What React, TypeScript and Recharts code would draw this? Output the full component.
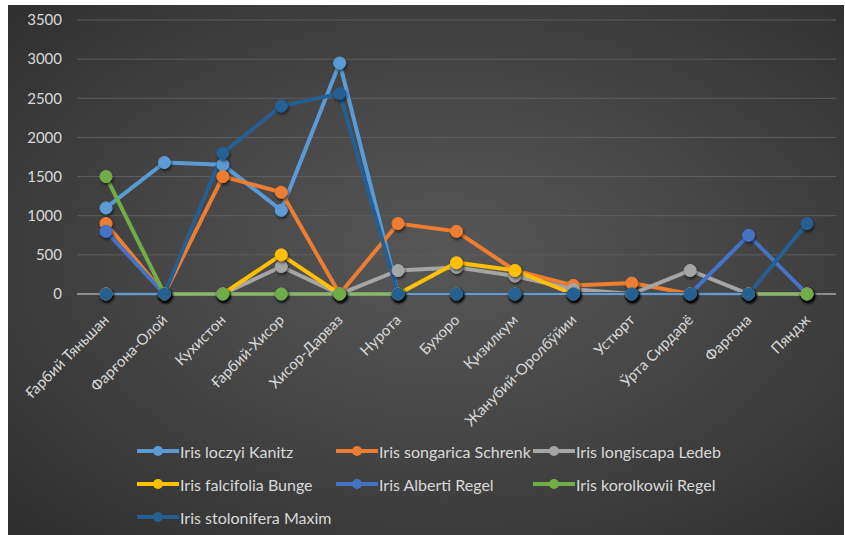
import React from "react";
import {
  LineChart,
  Line,
  XAxis,
  YAxis,
  CartesianGrid,
  Legend,
} from "recharts";

const regions = [
  "Ғарбий Тяньшан",
  "Фарғона-Олой",
  "Кухистон",
  "Ғарбий-Хисор",
  "Хисор-Дарваз",
  "Нурота",
  "Бухоро",
  "Қизилкум",
  "Жанубий-Оролбўйии",
  "Устюрт",
  "Ўрта Сирдарё",
  "Фарғона",
  "Пяндж",
];

const loczyi = [1100, 1680, 1650, 1070, 2950, 0, 0, 0, 0, 0, 0, 0, 0];
const songarica = [900, 0, 1500, 1300, 0, 900, 800, 300, 110, 140, 0, 0, 0];
const longiscapa = [0, 0, 0, 350, 0, 300, 340, 230, 60, 0, 300, 0, 0];
const falcifolia = [0, 0, 0, 500, 0, 0, 400, 300, 0, 0, 0, 0, 0];
const alberti = [800, 0, 0, 0, 0, 0, 0, 0, 0, 0, 0, 750, 0];
const korolkowii = [1500, 0, 0, 0, 0, 0, 0, 0, 0, 0, 0, 0, 0];
const stolonifera = [0, 0, 1800, 2400, 2560, 0, 0, 0, 0, 0, 0, 0, 900];

const yTicks = [0, 500, 1000, 1500, 2000, 2500, 3000, 3500];

const series = [
  { key: "loczyi", name: "Iris loczyi Kanitz", values: loczyi, color: "#5B9BD5" },
  { key: "songarica", name: "Iris songarica Schrenk", values: songarica, color: "#ED7D31" },
  { key: "longiscapa", name: "Iris longiscapa Ledeb", values: longiscapa, color: "#A5A5A5" },
  { key: "falcifolia", name: "Iris falcifolia Bunge", values: falcifolia, color: "#FFC000" },
  { key: "alberti", name: "Iris Alberti Regel", values: alberti, color: "#4472C4" },
  { key: "korolkowii", name: "Iris korolkowii Regel", values: korolkowii, color: "#70AD47" },
  { key: "stolonifera", name: "Iris stolonifera Maxim", values: stolonifera, color: "#255E91" },
];

const data = regions.map((region, i) => {
  const row: Record<string, string | number> = { region };
  series.forEach((s) => {
    row[s.key] = s.values[i];
  });
  return row;
});

const FONT = "Lato, 'Open Sans', sans-serif";
const TEXT = "#d9d9d9";

const XTick = (props: any) => {
  const { x, y, payload } = props;
  return (
    <g transform={`translate(${x + 4},${y + 27})`}>
      <text
        transform="rotate(-45)"
        textAnchor="end"
        fill={TEXT}
        fontSize={15}
        fontFamily={FONT}
      >
        {payload.value}
      </text>
    </g>
  );
};

// legend laid out in three columns like the Excel original
const colX = [129, 328, 525];
const rowY = [16, 49, 82];

const renderLegend = (props: any) => {
  const payload = [...(props.payload || [])].sort(
    (a: any, b: any) =>
      series.findIndex((s) => s.name === a.value) -
      series.findIndex((s) => s.name === b.value)
  );
  return (
    <div style={{ position: "relative", width: 836, height: 100 }}>
      {payload.map((item: any, i: number) => {
        const left = colX[i % 3];
        const top = rowY[Math.floor(i / 3)];
        return (
          <div
            key={item.value}
            style={{
              position: "absolute",
              left,
              top: top - 11,
              height: 22,
              display: "flex",
              alignItems: "center",
              whiteSpace: "nowrap",
            }}
          >
            <svg width={42} height={14}>
              <line x1={0} y1={7} x2={42} y2={7} stroke={item.color} strokeWidth={4} strokeLinecap="round" />
              <circle cx={21} cy={7} r={5} fill={item.color} />
            </svg>
            <span
              style={{
                marginLeft: 1,
                color: TEXT,
                fontFamily: FONT,
                fontSize: 16,
              }}
            >
              {item.value}
            </span>
          </div>
        );
      })}
    </div>
  );
};

export default function App() {
  return (
    <div
      style={{
        position: "absolute",
        left: 8,
        top: 5,
        width: 836,
        height: 530,
        background:
          "radial-gradient(ellipse at 52% 48%, #575757 0%, #464646 45%, #2e2e2e 100%)",
      }}
    >
      <LineChart
        width={836}
        height={530}
        data={data}
        margin={{ top: 15, right: 8, left: 0, bottom: 21 }}
      >
        <defs>
          <filter id="dotShadow" x="-50%" y="-50%" width="200%" height="200%">
            <feDropShadow dx="1" dy="2" stdDeviation="1.5" floodColor="#000" floodOpacity="0.6" />
          </filter>
        </defs>
        <CartesianGrid vertical={false} stroke="#5e5e5e" strokeWidth={1} />
        <XAxis
          dataKey="region"
          interval={0}
          height={120}
          padding={{ left: 29, right: 29 }}
          tickLine={false}
          tickSize={0}
          tickMargin={0}
          axisLine={{ stroke: "#a6a6a6", strokeWidth: 1.5 }}
          tick={<XTick />}
        />
        <YAxis
          domain={[0, 3500]}
          ticks={yTicks}
          width={69}
          axisLine={false}
          tickLine={false}
          tickSize={0}
          tickMargin={15}
          tick={{ fill: TEXT, fontSize: 15, fontFamily: FONT }}
        />
        <Legend
          verticalAlign="bottom"
          content={renderLegend}
          wrapperStyle={{ left: 0, top: 430, width: 836, height: 100 }}
        />
        {series.map((s) => (
          <Line
            key={s.key}
            type="linear"
            dataKey={s.key}
            name={s.name}
            stroke={s.color}
            strokeWidth={4}
            dot={{ r: 6, fill: s.color, stroke: s.color, strokeWidth: 1, filter: "url(#dotShadow)" }}
            activeDot={false}
            isAnimationActive={false}
          />
        ))}
      </LineChart>
    </div>
  );
}
